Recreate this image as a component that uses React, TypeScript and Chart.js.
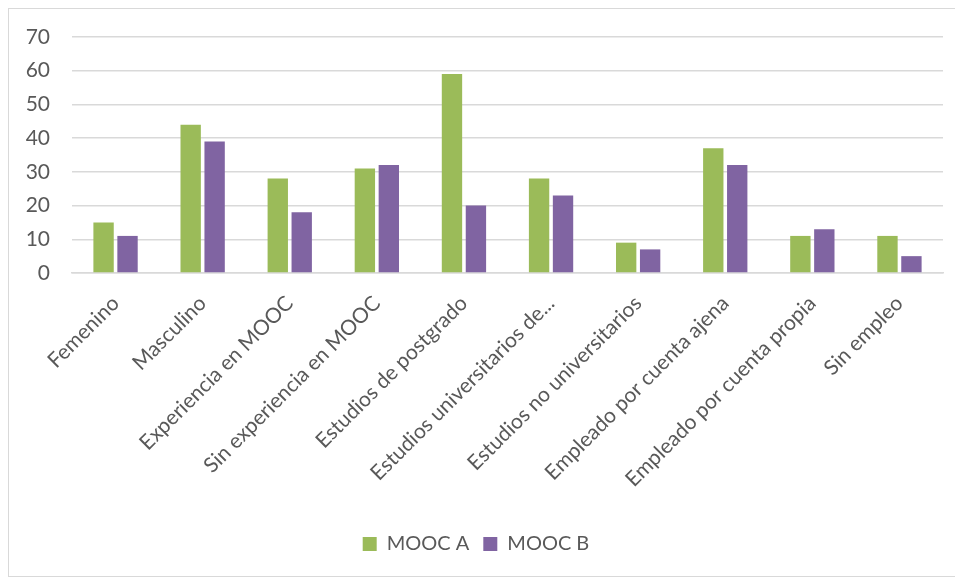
import React, { useEffect, useRef } from "react";
import { Chart, registerables } from "chart.js";

Chart.register(...registerables);

const categories = [
  "Femenino",
  "Masculino",
  "Experiencia en MOOC",
  "Sin experiencia en MOOC",
  "Estudios de postgrado",
  "Estudios universitarios de...",
  "Estudios no universitarios",
  "Empleado por cuenta ajena",
  "Empleado por cuenta propia",
  "Sin empleo",
];

const moocA = [15, 44, 28, 31, 59, 28, 9, 37, 11, 11];
const moocB = [11, 39, 18, 32, 20, 23, 7, 32, 13, 5];

const yTicks = [0, 10, 20, 30, 40, 50, 60, 70];

export default function App() {
  const ref = useRef<HTMLCanvasElement | null>(null);

  useEffect(() => {
    if (!ref.current) return;
    const font = "Lato, 'Open Sans', sans-serif";
    const chart = new Chart(ref.current, {
      type: "bar",
      data: {
        labels: categories,
        datasets: [
          {
            label: "MOOC A",
            data: moocA,
            backgroundColor: "#9BBB59",
            categoryPercentage: 0.55,
            barPercentage: 0.85,
          },
          {
            label: "MOOC B",
            data: moocB,
            backgroundColor: "#8064A2",
            categoryPercentage: 0.55,
            barPercentage: 0.85,
          },
        ],
      },
      options: {
        animation: false,
        responsive: false,
        maintainAspectRatio: false,
        layout: { padding: { top: 28, right: 18, bottom: 12, left: 0 } },
        plugins: {
          legend: {
            position: "bottom",
            labels: {
              boxWidth: 14,
              boxHeight: 14,
              padding: 14,
              color: "#595959",
              font: { family: font, size: 20 },
            },
          },
          tooltip: { enabled: false },
        },
        scales: {
          x: {
            grid: { display: false },
            border: { display: true, color: "#d9d9d9", width: 1.5 },
            ticks: {
              color: "#595959",
              font: { family: font, size: 21 },
              maxRotation: 45,
              minRotation: 45,
              autoSkip: false,
              padding: 10,
            },
            afterFit: (scale: any) => {
              scale.height = 247;
            },
          },
          y: {
            min: 0,
            max: 70,
            afterBuildTicks: (scale: any) => {
              scale.ticks = yTicks.map((v) => ({ value: v }));
            },
            grid: { color: "#d9d9d9", lineWidth: 1.5, drawTicks: false },
            border: { display: false },
            ticks: {
              color: "#595959",
              font: { family: font, size: 21 },
              padding: 22,
            },
            afterFit: (scale: any) => {
              scale.width = 63;
              scale.paddingTop = 0;
              scale.paddingBottom = 0;
            },
          },
        },
      },
    });
    return () => chart.destroy();
  }, []);

  return (
    <div
      style={{
        width: 952,
        height: 567,
        border: "1px solid #d9d9d9",
        background: "#fff",
        boxSizing: "content-box",
      }}
    >
      <canvas ref={ref} width={952} height={567} style={{ display: "block" }} />
    </div>
  );
}
